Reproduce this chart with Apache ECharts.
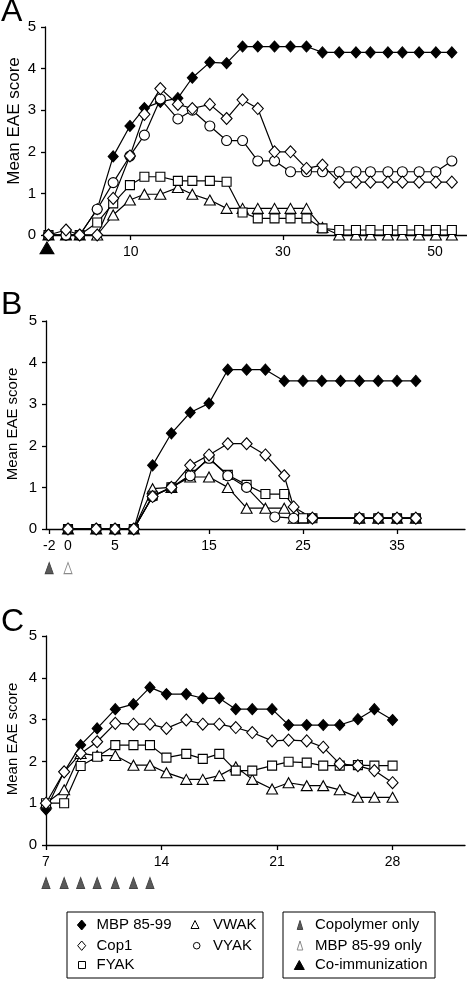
<!DOCTYPE html>
<html><head><meta charset="utf-8">
<script src="https://cdn.jsdelivr.net/npm/echarts@6/dist/echarts.min.js"></script>
<style>html,body{margin:0;padding:0;background:#fff}#c{width:467px;height:986px}</style>
</head><body><div id="c"></div>
<script>
// ---------- Panel A ----------
const daysA = [-0.8,1.5,3.3,5.6,7.7,9.9,11.8,13.9,16.2,18.1,20.4,22.6,24.7,26.7,28.9,31,33.1,35.2,37.4,39.6,41.5,43.8,45.7,47.9,50.1,52.2];
const mbpA  = [0,0,0,0.62,1.89,2.62,3.05,3.2,3.29,3.78,4.15,4.13,4.53,4.53,4.53,4.53,4.53,4.39,4.39,4.39,4.39,4.39,4.39,4.39,4.39,4.39];
const cop1A = [0,0.12,0,0,0.88,1.9,2.9,3.52,3.14,3.04,3.14,2.8,3.25,3.04,2.0,2.0,1.6,1.68,1.27,1.27,1.27,1.27,1.27,1.27,1.27,1.27];
const fyakA = [0,0,0,0.3,0.76,1.2,1.4,1.4,1.3,1.3,1.3,1.28,0.54,0.4,0.4,0.4,0.4,0.16,0.12,0.12,0.12,0.12,0.12,0.12,0.12,0.12];
const vwakA = [0,0,0,0,0.48,0.84,0.98,0.98,1.14,0.98,0.84,0.64,0.64,0.64,0.64,0.64,0.64,0.18,0,0,0,0,0,0,0,0];
const vyakA = [0,0,0,0.62,1.26,1.9,2.4,3.27,2.79,3.0,2.62,2.27,2.27,1.78,1.78,1.52,1.52,1.52,1.52,1.52,1.52,1.52,1.52,1.52,1.52,1.78];
const ticksA = [10,30,50];
const coImmunDaysA = [-1];

// ---------- Panel B ----------
const daysB  = [0,3,5,7,9,11,13,15,17,19,21,23,25,27,29,31,33,35,37];
const mbpB   = [0,0,0,0,1.53,2.3,2.8,3.02,3.83,3.83,3.83,3.56,3.56,3.56,3.56,3.56,3.56,3.56,3.56];
const cop1DaysB = [0,3,5,7,9,11,13,15,17,19,21,23,24,26,31,33,35,37];
const cop1B  = [0,0,0,0,0.78,1.0,1.53,1.78,2.05,2.05,1.78,1.28,0.53,0.26,0.26,0.26,0.26,0.26];
const fyakDaysB = [0,3,5,7,9,11,13,15,17,19,21,23,25,26,31,33,35,37];
const fyakB  = [0,0,0,0,0.8,1.0,1.3,1.7,1.3,1.06,0.84,0.84,0.26,0.26,0.26,0.26,0.26,0.26];
const vwakDaysB = [0,3,5,7,9,11,13,15,17,19,21,23,24,25,31,33,35,37];
const vwakB  = [0,0,0,0,0.97,1.0,1.25,1.25,1.0,0.5,0.5,0.5,0.26,0.26,0.26,0.26,0.26,0.26];
const vyakDaysB = [0,3,5,7,9,11,13,15,17,19,22,24,26,31,33,35,37];
const vyakB  = [0,0,0,0,0.78,1.0,1.28,1.7,1.28,1.0,0.29,0.26,0.26,0.26,0.26,0.26,0.26];
const ticksB = [-2,0,5,15,25,35];
const copolymerDaysB = [-2];
const mbpOnlyDaysB = [0];

// ---------- Panel C ----------
const daysC  = [7,8.1,9.1,10.1,11.2,12.3,13.3,14.3,15.5,16.5,17.5,18.5,19.5,20.7,21.7,22.8,23.8,24.8,25.9,26.9,28];
const mbpC   = [0.85,1.75,2.39,2.79,3.25,3.37,3.77,3.61,3.61,3.51,3.51,3.25,3.25,3.25,2.87,2.87,2.87,2.87,3.01,3.25,2.99];
const cop1C  = [1.0,1.75,2.19,2.47,2.91,2.89,2.89,2.79,2.99,2.89,2.89,2.81,2.69,2.49,2.51,2.49,2.34,1.94,1.9,1.78,1.49];
const fyakC  = [1.0,1.0,1.89,2.11,2.39,2.39,2.39,2.09,2.18,2.06,2.18,1.78,1.78,1.9,1.99,1.97,1.9,1.9,1.91,1.9,1.9];
const vwakC  = [1.0,1.32,2.19,2.14,2.14,1.91,1.91,1.73,1.57,1.57,1.66,1.87,1.57,1.34,1.49,1.42,1.42,1.32,1.14,1.14,1.14];
const ticksC = [7,14,21,28];
const copolymerDaysC = [7,8.1,9.1,10.1,11.2,12.3,13.3];

const FONT = '"Liberation Sans", Arial, Helvetica, sans-serif';
const BLACK = '#000';

function axisX(i, min, max, ticks) {
  return {
    type: 'value', gridIndex: i, min: min, max: max,
    axisLine: { show: true, onZero: false, lineStyle: { color: BLACK, width: 1.3 } },
    axisTick: { show: true, customValues: ticks, length: 5, inside: false, lineStyle: { color: BLACK, width: 1.3 } },
    axisLabel: { show: true, customValues: ticks, color: BLACK, fontSize: 14, margin: 10, fontFamily: FONT },
    splitLine: { show: false }
  };
}
function axisY(i) {
  return {
    type: 'value', gridIndex: i, min: 0, max: 5, interval: 1,
    axisLine: { show: true, onZero: false, lineStyle: { color: BLACK, width: 1.3 } },
    axisTick: { show: true, length: 4, lineStyle: { color: BLACK, width: 1.3 } },
    axisLabel: { color: BLACK, fontSize: 15, margin: 9, fontFamily: FONT },
    splitLine: { show: false }
  };
}
function line(name, g, xs, ys, symbol, size, fill) {
  const data = [];
  xs.forEach((x, k) => { if (ys[k] != null) data.push([x, ys[k]]); });
  return {
    type: 'line', name: name, xAxisIndex: g, yAxisIndex: g, data: data,
    symbol: symbol, symbolSize: size, showAllSymbol: true, silent: true,
    lineStyle: { color: BLACK, width: 1.2 },
    itemStyle: { color: fill, borderColor: BLACK, borderWidth: 1.1, opacity: 1 },
    emphasis: { disabled: true }
  };
}
function marks(g, xs, yPos, size, fill, stroke) {
  return {
    type: 'scatter', xAxisIndex: g, yAxisIndex: g, clip: false, silent: true,
    data: xs.map(x => [x, yPos]), symbol: 'triangle', symbolSize: size,
    itemStyle: { color: fill, borderColor: stroke, borderWidth: 1, opacity: 1 },
    emphasis: { disabled: true }
  };
}

const DI = [10, 11], ODI = [11, 12], SQ = 9, CI = 10, TR = [11, 10];
const series = [];
[[0, daysA, daysA, daysA, daysA, daysA, mbpA, cop1A, fyakA, vwakA, vyakA],
 [1, daysB, cop1DaysB, fyakDaysB, vwakDaysB, vyakDaysB, mbpB, cop1B, fyakB, vwakB, vyakB],
 [2, daysC, daysC, daysC, daysC, null, mbpC, cop1C, fyakC, vwakC, null]].forEach(p => {
  const g = p[0];
  series.push(line('MBP 85-99', g, p[1], p[6], 'diamond', DI, BLACK));
  series.push(line('VWAK', g, p[4], p[9], 'triangle', TR, '#fff'));
  series.push(line('FYAK', g, p[3], p[8], 'rect', SQ, '#fff'));
  if (p[5]) series.push(line('VYAK', g, p[5], p[10], 'circle', CI, '#fff'));
  series.push(line('Cop1', g, p[2], p[7], 'diamond', ODI, '#fff'));
});
series.push(marks(0, coImmunDaysA, -0.31, [14, 12], BLACK, BLACK));
series.push(marks(1, copolymerDaysB, -0.94, [8, 11], '#5a5a5a', '#444'));
series.push(marks(1, mbpOnlyDaysB, -0.94, [8, 11], '#fff', '#8a8a8a'));
series.push(marks(2, copolymerDaysC, -0.91, [8, 11], '#5a5a5a', '#444'));

function txt(x, y, s, size, align, rot) {
  return { type: 'text', x: x, y: y, rotation: rot || 0, silent: true,
    style: { text: s, fill: BLACK, font: size + 'px ' + FONT, textAlign: align || 'left', textVerticalAlign: 'middle' } };
}
function poly(pts, fill, stroke) {
  return { type: 'polygon', silent: true, shape: { points: pts }, style: { fill: fill, stroke: stroke, lineWidth: 1 } };
}
const graphic = [
  txt(1, 12, 'A', 32), txt(1, 305, 'B', 32), txt(1, 622, 'C', 32),
  txt(14, 121, 'Mean EAE score', 17, 'center', Math.PI / 2),
  txt(13, 424, 'Mean EAE score', 15, 'center', Math.PI / 2),
  txt(13, 739, 'Mean EAE score', 15, 'center', Math.PI / 2),
  { type: 'rect', silent: true, shape: { x: 67, y: 912, width: 196, height: 66 }, style: { fill: 'none', stroke: BLACK, lineWidth: 1 } },
  { type: 'rect', silent: true, shape: { x: 283, y: 912, width: 152, height: 66 }, style: { fill: 'none', stroke: BLACK, lineWidth: 1 } },
  poly([[81.7, 920], [86, 925], [81.7, 930], [77.4, 925]], BLACK, BLACK),
  poly([[81.7, 941], [85.7, 945.7], [81.7, 950.4], [77.7, 945.7]], '#fff', BLACK),
  { type: 'rect', silent: true, shape: { x: 78.5, y: 961.5, width: 7, height: 7 }, style: { fill: '#fff', stroke: BLACK, lineWidth: 1 } },
  poly([[195, 920.5], [199, 928.5], [191, 928.5]], '#fff', BLACK),
  { type: 'circle', silent: true, shape: { cx: 196.7, cy: 945.7, r: 3.3 }, style: { fill: '#fff', stroke: BLACK, lineWidth: 1 } },
  txt(96.5, 925, 'MBP 85-99', 15), txt(96.5, 945.7, 'Cop1', 15), txt(96.5, 965, 'FYAK', 15),
  txt(213, 925, 'VWAK', 15), txt(213, 945.7, 'VYAK', 15),
  poly([[300, 920.5], [302.8, 929.5], [297.2, 929.5]], '#5a5a5a', '#444'),
  poly([[300, 941], [302.8, 950], [297.2, 950]], '#fff', '#8a8a8a'),
  poly([[299.3, 960.5], [304.3, 969.5], [294.3, 969.5]], BLACK, BLACK),
  txt(315, 925, 'Copolymer only', 15), txt(315, 945.7, 'MBP 85-99 only', 15), txt(315, 965, 'Co-immunization', 15)
];

const chart = echarts.init(document.getElementById('c'), null, { renderer: 'canvas' });
chart.setOption({
  animation: false,
  backgroundColor: '#fff',
  textStyle: { fontFamily: FONT },
  grid: [
    { left: 45, top: 27, width: 422, height: 208, outerBoundsMode: 'none' },
    { left: 46, top: 321, width: 419, height: 208, outerBoundsMode: 'none' },
    { left: 46, top: 636, width: 419, height: 209, outerBoundsMode: 'none' }
  ],
  xAxis: [axisX(0, -1.26, 54.19, ticksA), axisX(1, -2.34, 42.23, ticksB), axisX(2, 7, 32.39, ticksC)],
  yAxis: [axisY(0), axisY(1), axisY(2)],
  series: series,
  graphic: graphic
});
</script></body></html>
